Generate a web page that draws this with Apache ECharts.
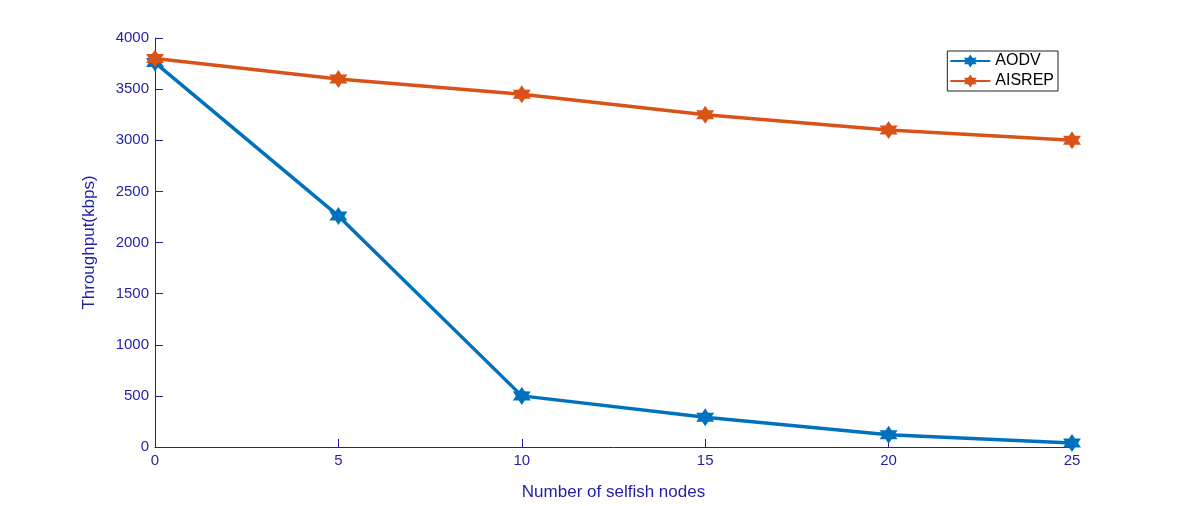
<!DOCTYPE html>
<html><head><meta charset="utf-8">
<script src="https://cdn.jsdelivr.net/npm/echarts@6/dist/echarts.min.js"></script>
<style>html,body{margin:0;background:#fff}#c{width:1184px;height:506px}</style>
</head><body><div id="c"></div>
<script>
const categories = [0, 5, 10, 15, 20, 25];
const aodv = [3760, 2260, 500, 290, 120, 40];
const aisrep = [3800, 3600, 3450, 3250, 3100, 3000];

let p = '';
for (let i = 0; i < 12; i++) {
  const a = -Math.PI / 2 + i * Math.PI / 6;
  const r = i % 2 === 0 ? 10 : 5.8;
  p += (i === 0 ? 'M' : 'L') + (r * Math.cos(a)).toFixed(2) + ',' + (r * Math.sin(a)).toFixed(2);
}
const star = 'path://' + p + 'Z';
const ax = '#1f1fa8';
const font = 'Arial, Liberation Sans';
const chart = echarts.init(document.getElementById('c'));
chart.setOption({
  animation: false,
  grid: { left: 155, right: 112, top: 38, bottom: 57 },
  legend: {
    right: 126, top: 51, orient: 'vertical', itemGap: 4, itemWidth: 40, itemHeight: 16,
    borderColor: '#222', borderWidth: 1, padding: [2, 4, 2, 2],
    textStyle: { fontFamily: font, fontSize: 16, color: '#000' },
    data: ['AODV', 'AISREP']
  },
  xAxis: {
    type: 'value', min: 0, max: 25, interval: 5,
    axisLine: { lineStyle: { color: ax } },
    axisTick: { inside: true, length: 8, lineStyle: { color: ax } },
    axisLabel: { color: ax, fontSize: 15, fontFamily: font, margin: 6 },
    splitLine: { show: false },
    name: 'Number of selfish nodes', nameLocation: 'middle', nameGap: 37,
    nameTextStyle: { color: ax, fontSize: 17, fontFamily: font }
  },
  yAxis: {
    type: 'value', min: 0, max: 4000, interval: 500,
    axisLine: { show: true, lineStyle: { color: ax } },
    axisTick: { show: true, inside: true, length: 8, lineStyle: { color: ax } },
    axisLabel: { color: ax, fontSize: 15, fontFamily: font, margin: 6, formatter: v => String(v) },
    splitLine: { show: false },
    name: 'Throughput(kbps)', nameLocation: 'middle', nameGap: 57,
    nameTextStyle: { color: ax, fontSize: 17, fontFamily: font }
  },
  series: [
    { name: 'AODV', type: 'line', data: categories.map((x, i) => [x, aodv[i]]),
      symbol: star, symbolSize: 18, lineStyle: { width: 3.5, color: '#0072BD' },
      itemStyle: { color: '#0072BD' }, z: 3 },
    { name: 'AISREP', type: 'line', data: categories.map((x, i) => [x, aisrep[i]]),
      symbol: star, symbolSize: 18, lineStyle: { width: 3.5, color: '#D95319' },
      itemStyle: { color: '#D95319' }, z: 4 }
  ]
});
</script></body></html>
